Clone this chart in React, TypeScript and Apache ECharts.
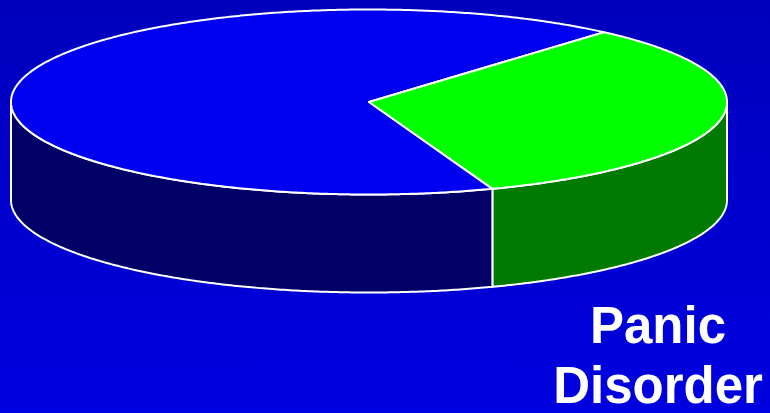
import React, { useEffect, useRef } from "react";
import * as echarts from "echarts";

// ---- data ----
const categories = ["Other", "Panic Disorder"];
const values = [67, 33];
const titleLines = ["Panic", "Disorder"];

// ---- style / layout ----
const topColors = ["#0000F0", "#00FF00"];
const sideColors = ["#000066", "#007A00"];
const START_ANGLE = 49; // degrees, counter-clockwise from 3 o'clock
const CX = 369;
const CY = 102;
const RX = 358;
const RY = 92.5;
const DEPTH = 98;

const total = values.reduce((a, b) => a + b, 0);

function pt(a: number, dy: number): number[] {
  const r = (a * Math.PI) / 180;
  return [CX + RX * Math.cos(r), CY - RY * Math.sin(r) + dy];
}

function arc(from: number, to: number, dy: number): number[][] {
  const pts: number[][] = [];
  const n = Math.max(2, Math.ceil(Math.abs(to - from) / 0.5));
  for (let k = 0; k <= n; k++) {
    pts.push(pt(from + ((to - from) * k) / n, dy));
  }
  return pts;
}

const renderItem = (params: any, api: any) => {
  const i = params.dataIndex;
  let before = 0;
  for (let k = 0; k < i; k++) before += values[k];
  const v = api.value(0);
  const a0 = START_ANGLE + (before / total) * 360;
  const a1 = a0 + (v / total) * 360;
  const stroke = { stroke: "#FFFFFF", lineWidth: 2, lineJoin: "round" };
  const children: any[] = [];
  const fronts = [
    [180, 360],
    [540, 720],
  ];
  for (const [lo, hi] of fronts) {
    const s = Math.max(a0, lo);
    const e = Math.min(a1, hi);
    if (s < e) {
      const pts = arc(s, e, 0).concat(arc(e, s, DEPTH));
      children.push({
        type: "polygon",
        shape: { points: pts },
        style: { fill: sideColors[i], ...stroke },
      });
    }
  }
  const topPts = [[CX, CY]].concat(arc(a0, a1, 0));
  children.push({
    type: "polygon",
    shape: { points: topPts },
    style: { fill: topColors[i], ...stroke },
  });
  return { type: "group", children };
};

export default function App() {
  const ref = useRef<HTMLDivElement>(null);
  useEffect(() => {
    if (!ref.current) return;
    const chart = echarts.init(ref.current, null, { renderer: "svg" });
    chart.setOption({
      animation: false,
      backgroundColor: "transparent",
      series: [
        {
          type: "custom",
          coordinateSystem: "none",
          silent: true,
          renderItem,
          data: values.map((v, idx) => ({ value: [v], name: categories[idx] })),
        },
      ],
      graphic: titleLines.map((line, k) => ({
        type: "text",
        x: 658,
        y: 325 + k * 60,
        silent: true,
        style: {
          text: line,
          fill: "#FFFFFF",
          font: "bold 51px 'Liberation Sans', Arial, sans-serif",
          align: "center",
          verticalAlign: "middle",
        },
      })),
    });
    return () => chart.dispose();
  }, []);
  return (
    <div
      style={{
        position: "fixed",
        left: 0,
        top: 0,
        width: 770,
        height: 413,
        background: "linear-gradient(to bottom, #0000BC 0%, #0000E0 100%)",
      }}
    >
      <div ref={ref} style={{ width: 770, height: 413 }} />
    </div>
  );
}
